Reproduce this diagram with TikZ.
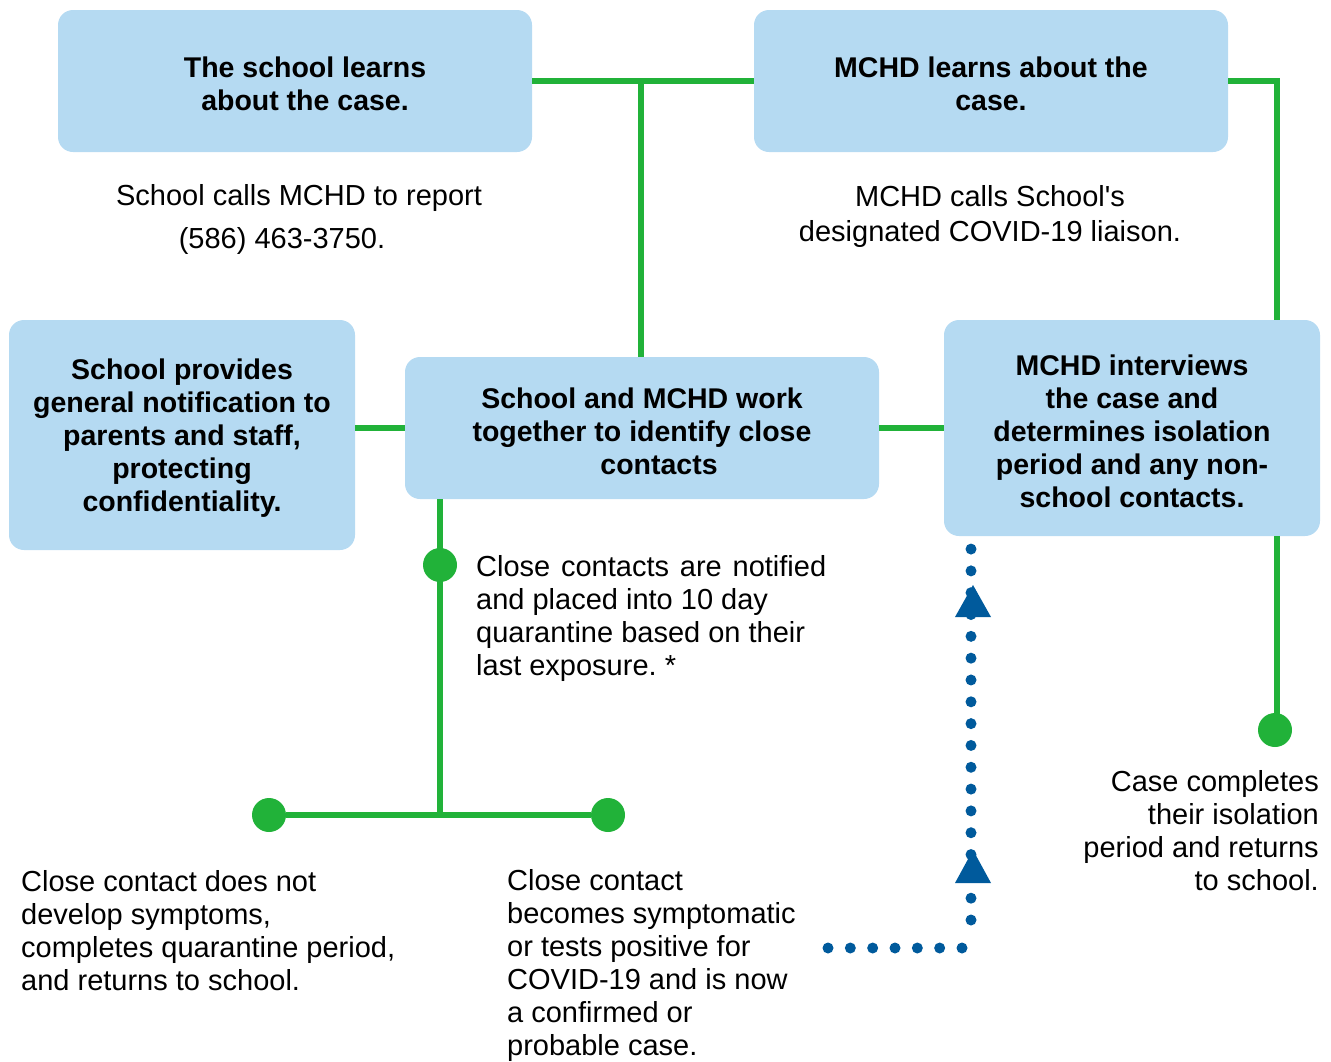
\documentclass[tikz,border=0pt]{standalone}
\usepackage{fontspec}
\setmainfont{Liberation Sans}
\frenchspacing
\definecolor{boxblue}{RGB}{181,218,242}
\definecolor{lgreen}{RGB}{33,178,57}
\definecolor{dblue}{RGB}{0,90,156}
\newcommand\bxstrut{\rule{0pt}{27pt}}
\begin{document}
\begin{tikzpicture}[x=1pt,y=-1pt,
  box/.style={fill=boxblue, rounded corners=15pt, inner sep=0pt, align=center, font=\fontsize{28.5}{33}\selectfont\bfseries},
  txt/.style={inner sep=0pt, font=\fontsize{29}{33}\selectfont},
  gline/.style={draw=lgreen, line width=5.5pt},
  gdot/.style={circle, fill=lgreen, minimum size=34pt, inner sep=0pt},
  bdots/.style={draw=dblue, line width=11pt, line cap=round},
  bhead/.style={fill=dblue}
]
\useasboundingbox (0,0) rectangle (1331,1061);

% blue dotted connector (behind boxes)
\coordinate (p1) at (828,948);
\coordinate (p2) at (962,948);
\coordinate (p3) at (971,920);
\coordinate (p4) at (971,549);
\draw[bdots, dash pattern=on 0pt off 22.333pt] (p1) -- (p2);
\draw[bdots, dash pattern=on 0pt off 21.82pt] (p3) -- (p4);
\fill[bhead] (973,585) -- (991,617) -- (955,617) -- cycle;
\fill[bhead] (973,850) -- (991,883) -- (955,883) -- cycle;

% boxes
\node[box, minimum width=474pt, minimum height=142pt] (b1) at (295,81)
  {\bxstrut\hspace*{20pt}The school learns\\\hspace*{20pt}about the case.};
\node[box, minimum width=474pt, minimum height=142pt] (b2) at (991,81)
  {\bxstrut MCHD learns about the\\case.};
\node[box, minimum width=346pt, minimum height=230pt] (b3) at (182,435)
  {\bxstrut School provides\\general notification to\\parents and staff,\\protecting\\confidentiality.};
\node[box, minimum width=474pt, minimum height=142pt] (b4) at (642,428)
  {\bxstrut School and MCHD work\\together to identify close\\\hspace*{34pt}contacts};
\node[box, minimum width=376pt, minimum height=216pt] (b5) at (1132,428)
  {\bxstrut MCHD interviews\\the case and\\determines isolation\\period and any non-\\school contacts.};

% green dots
\node[gdot] (d1) at (440,565) {};
\node[gdot] (d2) at (269,815) {};
\node[gdot] (d3) at (608,815) {};
\node[gdot] (d4) at (1275,730) {};

% green connectors
\coordinate (j1) at (641,0);
\coordinate (r1) at (1277,0);
\coordinate (v1) at (440,0);
\draw[gline] (b1.east) -- (b2.west);
\draw[gline] (b1.east -| j1) -- (b4.north -| j1);
\draw[gline] (b2.east) -| (r1 |- b5.north);
\draw[gline] (b3.east |- b4.west) -- (b4.west);
\draw[gline] (b4.east) -- (b5.west);
\draw[gline] (r1 |- b5.south) -- (r1 |- d4.center);
\draw[gline] (v1 |- b4.south) -- (v1 |- d2.center);
\draw[gline] (d2) -- (d3);

% texts
\node[txt, anchor=base] (t1a) at (299,205) {School calls MCHD to report};
\node[txt, anchor=base] (t1b) at (282,248) {(586) 463-3750.};
\node[txt, align=center, font=\fontsize{29}{35}\selectfont] (t2) at (990,216)
  {MCHD calls School\textquotesingle s\\designated COVID-19 liaison.};
\node[txt, align=left, anchor=west] (t3) at (476,618.5)
  {\makebox[350pt][s]{Close contacts are notified}\\and placed into 10 day\\quarantine based on their\\last exposure. *};
\node[txt, align=left, anchor=west] (t4) at (21,931)
  {Close contact does not\\develop symptoms,\\completes quarantine period,\\and returns to school.};
\node[txt, align=left, anchor=west] (t5) at (507,965.7)
  {Close contact\\becomes symptomatic\\or tests positive for\\COVID-19 and is now\\a confirmed or\\probable case.};
\node[txt, align=right, anchor=east] (t6) at (1319,831)
  {Case completes\\their isolation\\period and returns\\to school.};
\end{tikzpicture}
\end{document}
